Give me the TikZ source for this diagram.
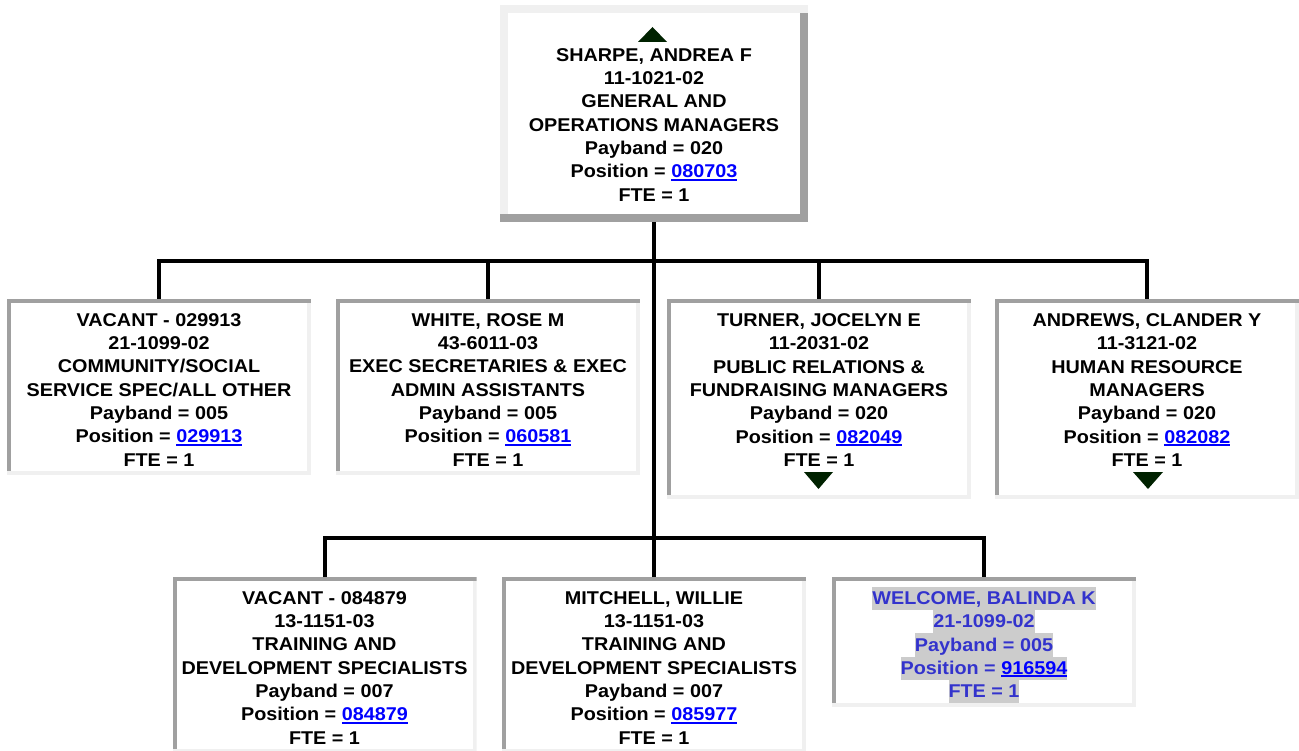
\documentclass[tikz,border=0pt]{standalone}
\usepackage{fontspec}
\setmainfont{Liberation Sans}[FakeStretch=1.07]
\usepackage{xcolor}
\definecolor{bddark}{HTML}{A0A0A0}
\definecolor{bdlight}{HTML}{F0F0F0}
\definecolor{linkblue}{HTML}{0000FF}
\definecolor{welcomeblue}{HTML}{3333CC}
\definecolor{hlgray}{HTML}{CCCCCC}
\definecolor{tridark}{RGB}{0,34,0}
\setlength\fboxsep{0pt}
\newcommand\mystrut{\rule[-5.5pt]{0pt}{23.3pt}}
\newcommand\firststrut{\rule[-5.5pt]{0pt}{29.3pt}}
\newcommand\orgtext{\fontsize{18.5pt}{23.3pt}\selectfont\bfseries}
\newcommand\lnk[1]{{\color{linkblue}\setbox0\hbox{#1}\rlap{\rule[-3pt]{\wd0}{2pt}}\box0}}
\newcommand\hlline[1]{\colorbox{hlgray}{\mystrut#1}}
\tikzset{
  bevel/.style n args={3}{path picture={
    \fill[#1] (path picture bounding box.north west) rectangle ([yshift=-#3]path picture bounding box.north east);
    \fill[#2] (path picture bounding box.south west) rectangle ([yshift=#3]path picture bounding box.south east);
    \fill[#1] ([yshift=-#3]path picture bounding box.north west) rectangle ([xshift=#3,yshift=#3]path picture bounding box.south west);
    \fill[#2] ([yshift=-#3]path picture bounding box.north east) rectangle ([xshift=-#3,yshift=#3]path picture bounding box.south east);
  }},
  orgbox/.style={draw=none, fill=white, inner sep=0pt, outer sep=0pt, align=center,
    font=\orgtext, minimum width=304pt, minimum height=176pt},
  insetbox/.style={orgbox, bevel={bddark}{bdlight}{4pt}},
  outsetbox/.style={orgbox, bevel={bdlight}{bddark}{8pt}},
  conn/.style={line width=4pt, black},
  tri/.style={fill=tridark}
}
\begin{document}
\begin{tikzpicture}[x=1pt,y=-1pt]
\useasboundingbox (0,0) rectangle (1299,751);
\fill[white] (0,0) rectangle (1299,751);

% top box
\node[outsetbox, minimum width=308pt, minimum height=217pt] (top) at (654,113.5)
  {\mystrut\\
   \mystrut SHARPE, ANDREA F\\
   \mystrut 11-1021-02\\
   \mystrut GENERAL AND\\
   \mystrut OPERATIONS MANAGERS\\
   \mystrut Payband = 020\\
   \mystrut Position = \lnk{080703}\\
   \mystrut FTE = 1};

% second row
\node[insetbox] (b1) at (159,387)
  {\firststrut VACANT - 029913\\
   \mystrut 21-1099-02\\
   \mystrut COMMUNITY/SOCIAL\\
   \mystrut SERVICE SPEC/ALL OTHER\\
   \mystrut Payband = 005\\
   \mystrut Position = \lnk{029913}\\
   \mystrut FTE = 1};
\node[insetbox] (b2) at (488,387)
  {\firststrut WHITE, ROSE M\\
   \mystrut 43-6011-03\\
   \mystrut EXEC SECRETARIES \& EXEC\\
   \mystrut ADMIN ASSISTANTS\\
   \mystrut Payband = 005\\
   \mystrut Position = \lnk{060581}\\
   \mystrut FTE = 1};
\node[insetbox, minimum height=200pt] (b3) at (819,399)
  {\firststrut TURNER, JOCELYN E\\
   \mystrut 11-2031-02\\
   \mystrut PUBLIC RELATIONS \&\\
   \mystrut FUNDRAISING MANAGERS\\
   \mystrut Payband = 020\\
   \mystrut Position = \lnk{082049}\\
   \mystrut FTE = 1\\
   \mystrut};
\node[insetbox, minimum height=200pt] (b4) at (1147,399)
  {\firststrut ANDREWS, CLANDER Y\\
   \mystrut 11-3121-02\\
   \mystrut HUMAN RESOURCE\\
   \mystrut MANAGERS\\
   \mystrut Payband = 020\\
   \mystrut Position = \lnk{082082}\\
   \mystrut FTE = 1\\
   \mystrut};

% third row
\node[insetbox] (b5) at (324.5,665)
  {\firststrut VACANT - 084879\\
   \mystrut 13-1151-03\\
   \mystrut TRAINING AND\\
   \mystrut DEVELOPMENT SPECIALISTS\\
   \mystrut Payband = 007\\
   \mystrut Position = \lnk{084879}\\
   \mystrut FTE = 1};
\node[insetbox] (b6) at (654,665)
  {\firststrut MITCHELL, WILLIE\\
   \mystrut 13-1151-03\\
   \mystrut TRAINING AND\\
   \mystrut DEVELOPMENT SPECIALISTS\\
   \mystrut Payband = 007\\
   \mystrut Position = \lnk{085977}\\
   \mystrut FTE = 1};
\node[insetbox, minimum height=130pt, text=welcomeblue] (b7) at (984,642)
  {\firststrut\hlline{WELCOME, BALINDA K}\\
   \hlline{21-1099-02}\\
   \hlline{Payband = 005}\\
   \hlline{Position = \lnk{916594}}\\
   \hlline{FTE = 1}};

% expand / collapse triangles
\fill[tri] ([xshift=-16pt,yshift=-37pt]top.north) -- ([xshift=13pt,yshift=-37pt]top.north) -- ([xshift=-1.5pt,yshift=-22pt]top.north) -- cycle;
\fill[tri] ([xshift=-15pt,yshift=27pt]b3.south) -- ([xshift=14pt,yshift=27pt]b3.south) -- ([xshift=-0.5pt,yshift=10pt]b3.south) -- cycle;
\fill[tri] ([xshift=-14pt,yshift=27pt]b4.south) -- ([xshift=16pt,yshift=27pt]b4.south) -- ([xshift=1pt,yshift=10pt]b4.south) -- cycle;

% connectors
\coordinate (j1) at (654,261);
\coordinate (j2) at (654,538);
\draw[conn] (top.south) -- (j2);
\draw[conn] (b1.north) |- (b4.north |- j1) -- (b4.north);
\draw[conn] (b2.north) -- (b2.north |- j1);
\draw[conn] (b3.north) -- (b3.north |- j1);
\draw[conn] (b5.north) |- (b7.north |- j2) -- (b7.north);
\draw[conn] (b6.north) -- (b6.north |- j2);
\end{tikzpicture}
\end{document}
